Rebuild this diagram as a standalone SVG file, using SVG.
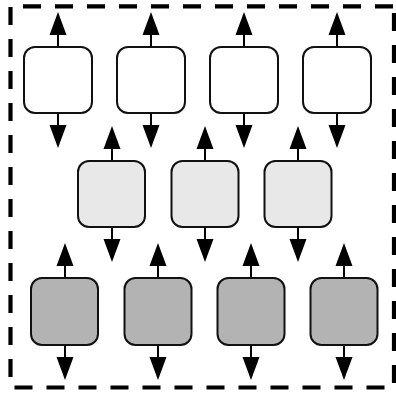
<svg xmlns="http://www.w3.org/2000/svg" xmlns:xlink="http://www.w3.org/1999/xlink" width="396" height="393" viewBox="0 0 396 393">
  <style>
    .frame { fill: none; stroke: #000; stroke-width: 4.2; stroke-dasharray: 18 14; }
    .box { stroke: #111; stroke-width: 2; }
    .top { fill: #ffffff; }
    .mid { fill: #e8e8e8; }
    .low { fill: #b3b3b3; }
    .stem { stroke: #000; stroke-width: 2; fill: none; }
    .head { fill: #000; }
  </style>
  <defs>
    <!-- arrow pointing up: origin at box top edge -->
    <g id="up">
      <line class="stem" x1="0" y1="0" x2="0" y2="-13"/>
      <polygon class="head" points="-8.5,-12 8.5,-12 0,-35"/>
    </g>
    <!-- arrow pointing down: origin at box bottom edge -->
    <g id="down">
      <line class="stem" x1="0" y1="0" x2="0" y2="13"/>
      <polygon class="head" points="-8.5,12 8.5,12 0,35"/>
    </g>
  </defs>

  <!-- dashed boundary, one stroke per side -->
  <g id="frame">
    <line class="frame" x1="23" y1="6.3" x2="396" y2="6.3"/>
    <line class="frame" x1="10.5" y1="7" x2="10.5" y2="390"/>
    <line class="frame" x1="14.5" y1="387.5" x2="396" y2="387.5"/>
    <line class="frame" x1="394" y1="13" x2="394" y2="390"/>
  </g>

  <g id="connectors">
    <use xlink:href="#up" x="58" y="47"/>
    <use xlink:href="#up" x="151" y="47"/>
    <use xlink:href="#up" x="244" y="47"/>
    <use xlink:href="#up" x="337" y="47"/>
    <use xlink:href="#down" x="58" y="113"/>
    <use xlink:href="#down" x="151" y="113"/>
    <use xlink:href="#down" x="244" y="113"/>
    <use xlink:href="#down" x="337" y="113"/>

    <use xlink:href="#up" x="112" y="161"/>
    <use xlink:href="#up" x="205" y="161"/>
    <use xlink:href="#up" x="298" y="161"/>
    <use xlink:href="#down" x="112" y="227"/>
    <use xlink:href="#down" x="205" y="227"/>
    <use xlink:href="#down" x="298" y="227"/>

    <use xlink:href="#up" x="65" y="278"/>
    <use xlink:href="#up" x="158" y="278"/>
    <use xlink:href="#up" x="251" y="278"/>
    <use xlink:href="#up" x="344" y="278"/>
    <use xlink:href="#down" x="65" y="345"/>
    <use xlink:href="#down" x="158" y="345"/>
    <use xlink:href="#down" x="251" y="345"/>
    <use xlink:href="#down" x="344" y="345"/>
  </g>

  <g id="n1"><rect class="box top" x="24" y="47" width="68" height="66" rx="11"/></g>
  <g id="n2"><rect class="box top" x="117" y="47" width="68" height="66" rx="11"/></g>
  <g id="n3"><rect class="box top" x="210" y="47" width="68" height="66" rx="11"/></g>
  <g id="n4"><rect class="box top" x="303" y="47" width="68" height="66" rx="11"/></g>

  <g id="n5"><rect class="box mid" x="78" y="161" width="67" height="66" rx="11"/></g>
  <g id="n6"><rect class="box mid" x="171.5" y="161" width="67" height="66" rx="11"/></g>
  <g id="n7"><rect class="box mid" x="264.5" y="161" width="67" height="66" rx="11"/></g>

  <g id="n8"><rect class="box low" x="31" y="278" width="67" height="67" rx="11"/></g>
  <g id="n9"><rect class="box low" x="124.5" y="278" width="67" height="67" rx="11"/></g>
  <g id="n10"><rect class="box low" x="217.5" y="278" width="67" height="67" rx="11"/></g>
  <g id="n11"><rect class="box low" x="310.5" y="278" width="67" height="67" rx="11"/></g>
</svg>
